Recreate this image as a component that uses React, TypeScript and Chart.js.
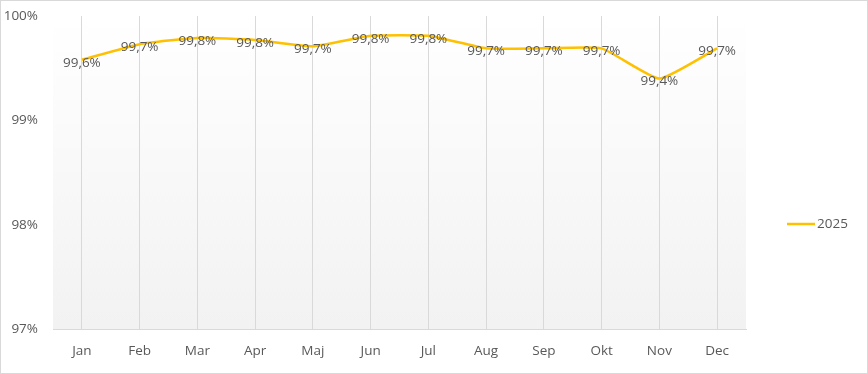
import React, { useEffect, useRef } from "react";
import { Chart, registerables } from "chart.js";

Chart.register(...registerables);

const categories = ["Jan", "Feb", "Mar", "Apr", "Maj", "Jun", "Jul", "Aug", "Sep", "Okt", "Nov", "Dec"];
const values2025 = [99.58, 99.73, 99.79, 99.77, 99.71, 99.81, 99.81, 99.69, 99.69, 99.69, 99.4, 99.69];
const labels2025 = ["99,6%", "99,7%", "99,8%", "99,8%", "99,7%", "99,8%", "99,8%", "99,7%", "99,7%", "99,7%", "99,4%", "99,7%"];
const seriesName = "2025";
const yTicks = [97, 98, 99, 100];

const FONT = "'Open Sans', 'Liberation Sans', sans-serif";
const TEXT = "#595959";
const LINE = "#FFC000";

export default function App() {
  const ref = useRef<HTMLCanvasElement | null>(null);
  useEffect(() => {
    document.body.style.margin = "0";
    const canvas = ref.current!;
    const decor = {
      id: "decor",
      beforeDraw(chart: any) {
        const { ctx, chartArea: a } = chart;
        ctx.save();
        ctx.fillStyle = "#fff";
        ctx.fillRect(0, 0, chart.width, chart.height);
        const g = ctx.createLinearGradient(0, a.top, 0, a.bottom);
        g.addColorStop(0, "#ffffff");
        g.addColorStop(1, "#f2f2f2");
        ctx.fillStyle = g;
        ctx.fillRect(a.left, a.top, a.right - a.left, a.bottom - a.top);
        ctx.restore();
      },
      afterDraw(chart: any) {
        const { ctx } = chart;
        ctx.save();
        const meta = chart.getDatasetMeta(0);
        ctx.font = `13.5px ${FONT}`;
        ctx.fillStyle = TEXT;
        ctx.textAlign = "center";
        ctx.textBaseline = "middle";
        meta.data.forEach((p: any, i: number) => {
          ctx.fillText(labels2025[i], p.x, p.y + 3);
        });
        const ly = 224;
        ctx.strokeStyle = LINE;
        ctx.lineWidth = 2.5;
        ctx.beginPath();
        ctx.moveTo(787, ly);
        ctx.lineTo(815, ly);
        ctx.stroke();
        ctx.textAlign = "left";
        ctx.fillText(seriesName, 817, ly);
        ctx.strokeStyle = "#d9d9d9";
        ctx.lineWidth = 1;
        ctx.strokeRect(0.5, 0.5, chart.width - 1, chart.height - 1);
        ctx.restore();
      },
    };
    const chart = new Chart(canvas, {
      type: "line",
      data: {
        labels: categories,
        datasets: [
          {
            label: seriesName,
            data: values2025,
            borderColor: LINE,
            backgroundColor: LINE,
            borderWidth: 2.5,
            pointRadius: 0,
            tension: 0.15,
            fill: false,
          },
        ],
      },
      options: {
        animation: false,
        responsive: false,
        devicePixelRatio: 1,
        layout: { padding: { top: 16, right: 122, left: 0, bottom: 0 } },
        plugins: { legend: { display: false }, tooltip: { enabled: false } },
        scales: {
          x: {
            offset: true,
            grid: { offset: false, color: "#d9d9d9", drawTicks: false },
            border: { color: "#d9d9d9" },
            ticks: { color: TEXT, font: { family: FONT, size: 13.5 }, padding: 14 },
            afterFit(s: any) { s.height = 45; s.paddingLeft = 0; s.paddingRight = 0; },
          },
          y: {
            min: 97,
            max: 100,
            afterBuildTicks(s: any) { s.ticks = yTicks.map((v) => ({ value: v })); },
            grid: { display: false, drawTicks: false },
            border: { display: false },
            ticks: {
              color: TEXT,
              font: { family: FONT, size: 13.5 },
              padding: 15,
              callback: (v: any) => `${v}%`,
            },
            afterFit(s: any) { s.width = 53; s.paddingTop = 0; s.paddingBottom = 0; },
          },
        },
      },
      plugins: [decor],
    });
    return () => chart.destroy();
  }, []);
  return <canvas ref={ref} width={868} height={374} style={{ display: "block" }} />;
}
